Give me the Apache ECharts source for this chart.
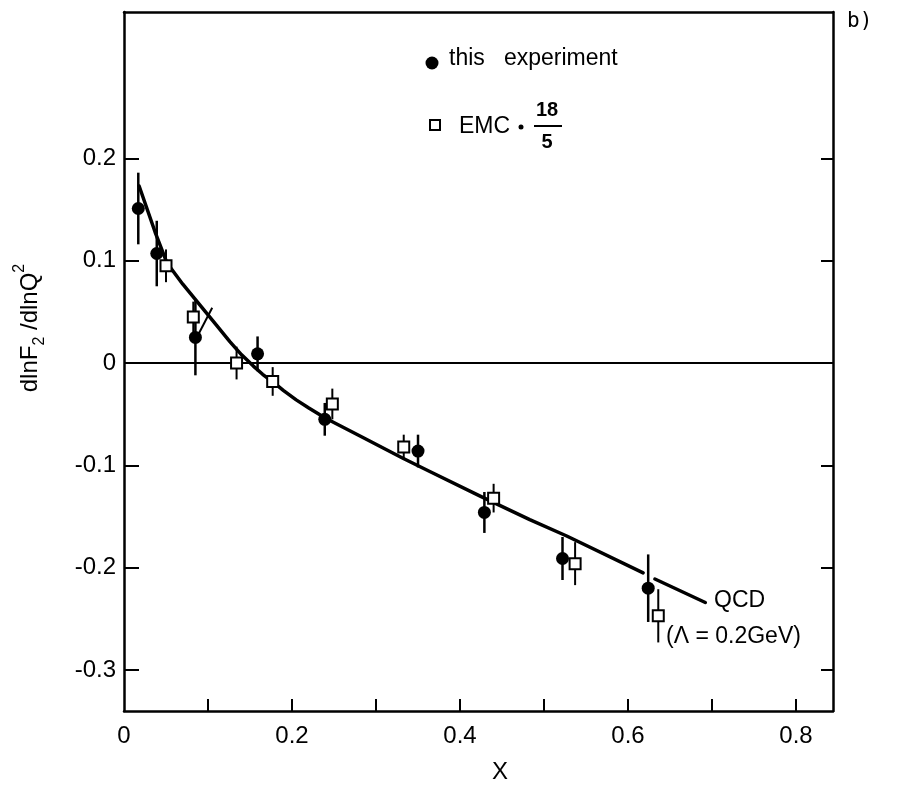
<!DOCTYPE html>
<html>
<head>
<meta charset="utf-8">
<script src="https://cdn.jsdelivr.net/npm/echarts@6/dist/echarts.min.js"></script>
<style>
  html, body { margin: 0; padding: 0; background: #fff; }
  #chart { width: 906px; height: 786px; }
</style>
</head>
<body>
<div id="chart"></div>
<script>
// Axis ticks and labels
const xTickValues = [0.1, 0.2, 0.3, 0.4, 0.5, 0.6, 0.7, 0.8];
const xLabelValues = [0, 0.2, 0.4, 0.6, 0.8];
const xLabelTexts = ['0', '0.2', '0.4', '0.6', '0.8'];
const yTickValues = [-0.3, -0.2, -0.1, 0, 0.1, 0.2];
const yLabelTexts = ['-0.3', '-0.2', '-0.1', '0', '0.1', '0.2'];

// this experiment: x, dlnF2/dlnQ^2, error
const expX   = [0.017, 0.039, 0.085, 0.159, 0.239, 0.350, 0.429, 0.522, 0.624];
const expY   = [0.151, 0.107, 0.025, 0.009, -0.055, -0.086, -0.146, -0.191, -0.220];
const expErr = [0.035, 0.032, 0.037, 0.017, 0.016, 0.016, 0.020, 0.021, 0.033];

// EMC * 18/5
const emcX   = [0.050, 0.0825, 0.134, 0.177, 0.248, 0.333, 0.440, 0.537, 0.636];
const emcY   = [0.095, 0.045, 0.000, -0.018, -0.040, -0.082, -0.132, -0.196, -0.247];
const emcErr = [0.016, 0.015, 0.016, 0.014, 0.015, 0.012, 0.014, 0.021, 0.026];

// QCD prediction (Lambda = 0.2 GeV); null marks the break in the drawn line
const qcdX = [0.018, 0.037, 0.051, 0.070, 0.090, 0.110, 0.126, 0.140, 0.154, 0.165, 0.178, 0.190, 0.205, 0.220, 0.240, 0.285, 0.332, 0.364, 0.424, 0.483, 0.527, 0.618, null, 0.632, 0.692];
const qcdY = [0.173, 0.128, 0.098, 0.077, 0.057, 0.037, 0.021, 0.008, -0.003, -0.011, -0.019, -0.027, -0.036, -0.044, -0.054, -0.073, -0.093, -0.106, -0.130, -0.153, -0.169, -0.205, null, -0.211, -0.234];

// short stray stroke next to the third point
const strokeX = [0.086, 0.105];
const strokeY = [0.024, 0.054];

const FONT = 'Liberation Sans, Arial, sans-serif';

function labelFor(values, texts) {
  return function (v) {
    for (let i = 0; i < values.length; i++) {
      if (Math.abs(values[i] - v) < 1e-6) return texts[i];
    }
    return '';
  };
}

function errorBars(xs, ys, errs, width) {
  return {
    type: 'custom',
    silent: true,
    z: 3,
    data: xs.map((x, i) => [x, ys[i] - errs[i], ys[i] + errs[i]]),
    encode: { x: 0, y: [1, 2] },
    renderItem: function (params, api) {
      const lo = api.coord([api.value(0), api.value(1)]);
      const hi = api.coord([api.value(0), api.value(2)]);
      return {
        type: 'line',
        shape: { x1: lo[0], y1: lo[1], x2: hi[0], y2: hi[1] },
        style: { stroke: '#000', lineWidth: width }
      };
    }
  };
}

const chart = echarts.init(document.getElementById('chart'), null, { renderer: 'canvas' });

chart.setOption({
  animation: false,
  backgroundColor: '#fff',
  grid: { left: 124, top: 12, width: 709, height: 699, containLabel: false },
  xAxis: [
    {
      type: 'value', min: 0, max: 0.844, position: 'bottom',
      axisLine: { show: true, onZero: false, lineStyle: { color: '#000', width: 2.5 } },
      axisTick: { show: true, inside: true, length: 12, customValues: xTickValues, lineStyle: { color: '#000', width: 2 } },
      axisLabel: {
        show: true, customValues: xLabelValues, formatter: labelFor(xLabelValues, xLabelTexts),
        color: '#000', fontFamily: FONT, fontSize: 24, margin: 13
      },
      splitLine: { show: false }
    },
    {
      type: 'value', min: 0, max: 0.844, position: 'top',
      axisLine: { show: true, onZero: false, lineStyle: { color: '#000', width: 2.5 } },
      axisTick: { show: false }, axisLabel: { show: false }, splitLine: { show: false }
    }
  ],
  yAxis: [
    {
      type: 'value', min: -0.34, max: 0.343, position: 'left',
      axisLine: { show: true, onZero: false, lineStyle: { color: '#000', width: 2.5 } },
      axisTick: { show: true, inside: true, length: 15, customValues: yTickValues, lineStyle: { color: '#000', width: 2 } },
      axisLabel: {
        show: true, customValues: yTickValues, formatter: labelFor(yTickValues, yLabelTexts),
        color: '#000', fontFamily: FONT, fontSize: 24, margin: 8
      },
      splitLine: { show: false }
    },
    {
      type: 'value', min: -0.34, max: 0.343, position: 'right',
      axisLine: { show: true, onZero: false, lineStyle: { color: '#000', width: 2.5 } },
      axisTick: { show: true, inside: true, length: 12, customValues: yTickValues, lineStyle: { color: '#000', width: 2 } },
      axisLabel: { show: false }, splitLine: { show: false }
    }
  ],
  series: [
    {
      name: 'QCD',
      type: 'line',
      data: qcdX.map((x, i) => (x === null ? [null, null] : [x, qcdY[i]])),
      smooth: false,
      connectNulls: false,
      showSymbol: false,
      lineStyle: { color: '#000', width: 3.5, join: 'round', cap: 'round' },
      z: 2,
      silent: true,
      markLine: {
        silent: true,
        symbol: ['none', 'none'],
        label: { show: false },
        lineStyle: { color: '#000', width: 2, type: 'solid' },
        data: [{ yAxis: 0 }]
      }
    },
    {
      type: 'line',
      data: strokeX.map((x, i) => [x, strokeY[i]]),
      showSymbol: false,
      lineStyle: { color: '#000', width: 2 },
      z: 2,
      silent: true
    },
    errorBars(expX, expY, expErr, 2.5),
    errorBars(emcX, emcY, emcErr, 2),
    {
      name: 'this experiment',
      type: 'scatter',
      data: expX.map((x, i) => [x, expY[i]]),
      symbol: 'circle',
      symbolSize: 13,
      itemStyle: { color: '#000', opacity: 1 },
      z: 5
    },
    {
      name: 'EMC',
      type: 'scatter',
      data: emcX.map((x, i) => [x, emcY[i]]),
      symbol: 'rect',
      symbolSize: 11,
      itemStyle: { color: '#fff', borderColor: '#000', borderWidth: 2, opacity: 1 },
      z: 5
    }
  ],
  graphic: [
    // axis titles
    {
      type: 'text', x: 30, y: 328, rotation: Math.PI / 2,
      style: {
        text: '{a|dlnF}{s|2}{a| /dlnQ}{p|2}',
        align: 'center', verticalAlign: 'middle',
        rich: {
          a: { fontFamily: FONT, fontSize: 24, fill: '#000', lineHeight: 36, verticalAlign: 'middle' },
          s: { fontFamily: FONT, fontSize: 16, fill: '#000', lineHeight: 36, verticalAlign: 'bottom' },
          p: { fontFamily: FONT, fontSize: 16, fill: '#000', lineHeight: 36, verticalAlign: 'top' }
        }
      }
    },
    { type: 'text', x: 500, y: 772, style: { text: 'X', fontFamily: FONT, fontSize: 24, fill: '#000', align: 'center', verticalAlign: 'middle' } },
    // legend
    { type: 'circle', shape: { cx: 432, cy: 63, r: 6.5 }, style: { fill: '#000' } },
    { type: 'text', x: 449, y: 59, style: { text: 'this   experiment', fontFamily: FONT, fontSize: 23, fill: '#000', verticalAlign: 'middle' } },
    { type: 'rect', shape: { x: 430, y: 120, width: 10, height: 10 }, style: { fill: '#fff', stroke: '#000', lineWidth: 2 } },
    { type: 'text', x: 459, y: 127, style: { text: 'EMC', fontFamily: FONT, fontSize: 23, fill: '#000', verticalAlign: 'middle' } },
    { type: 'circle', shape: { cx: 521, cy: 127, r: 2.5 }, style: { fill: '#000' } },
    { type: 'text', x: 547, y: 110, style: { text: '18', fontFamily: FONT, fontSize: 20, fontWeight: 'bold', fill: '#000', align: 'center', verticalAlign: 'middle' } },
    { type: 'line', shape: { x1: 534, y1: 126, x2: 562, y2: 126 }, style: { stroke: '#000', lineWidth: 2 } },
    { type: 'text', x: 547, y: 142, style: { text: '5', fontFamily: FONT, fontSize: 20, fontWeight: 'bold', fill: '#000', align: 'center', verticalAlign: 'middle' } },
    // curve label
    { type: 'text', x: 714, y: 601, style: { text: 'QCD', fontFamily: FONT, fontSize: 23, fill: '#000', verticalAlign: 'middle' } },
    { type: 'text', x: 666, y: 637, style: { text: '(Λ = 0.2GeV)', fontFamily: FONT, fontSize: 23, fill: '#000', verticalAlign: 'middle' } },
    // panel tag
    { type: 'text', x: 847, y: 22, style: { text: 'b)', fontFamily: 'DejaVu Sans Mono, monospace', fontSize: 21, fill: '#000', verticalAlign: 'middle' } }
  ]
});
</script>
</body>
</html>
